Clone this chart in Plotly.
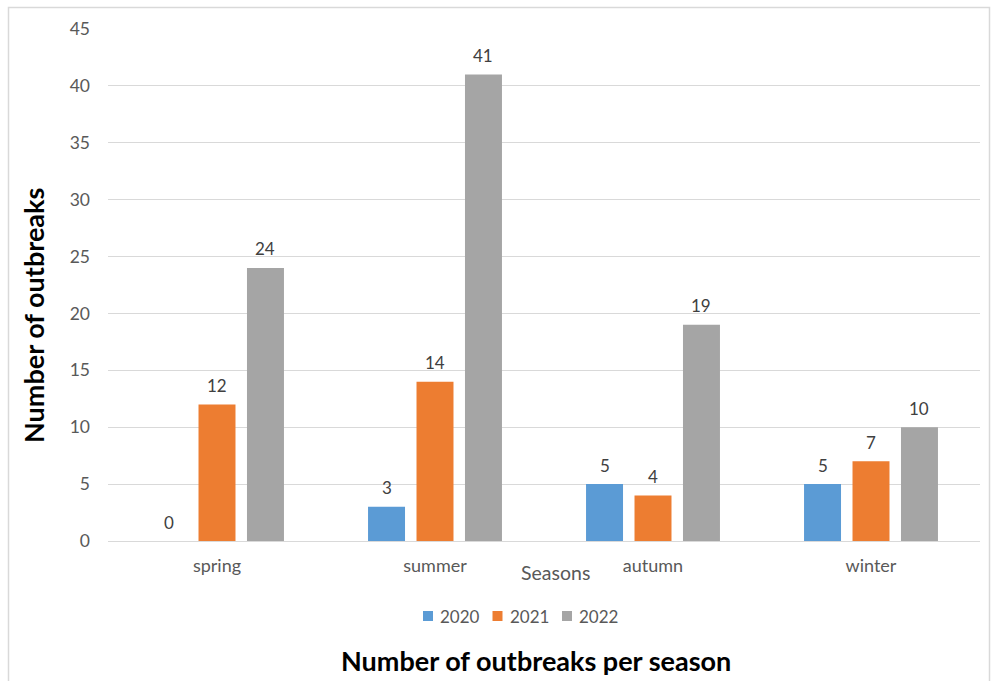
import plotly.graph_objects as go

seasons = ["spring", "summer", "autumn", "winter"]
years = ["2020", "2021", "2022"]
outbreaks_2020 = [0, 3, 5, 5]
outbreaks_2021 = [12, 14, 4, 7]
outbreaks_2022 = [24, 41, 19, 10]
y_ticks = [0, 5, 10, 15, 20, 25, 30, 35, 40, 45]

series = [outbreaks_2020, outbreaks_2021, outbreaks_2022]
colors = ["#5B9BD5", "#ED7D31", "#A5A5A5"]

FONT = "Lato, Carlito, Calibri, sans-serif"
TEXT = "#595959"

W, H = 991, 681
L, R, T, B = 108, 11, 29, 140
pw, ph = W - L - R, H - T - B

def px_x(p):
    return (p - L) / pw

def px_y(p):
    return (H - B - p) / ph

BARGAP, GROUPGAP = 0.333, 0.237

fig = go.Figure()
for name, vals, col in zip(years, series, colors):
    fig.add_trace(go.Bar(
        x=seasons, y=vals, name=name, showlegend=False,
        marker=dict(color=col, line=dict(width=0)),
    ))

# value labels above each bar, placed on the bar's own category offset
annotations = []
n = len(series)
slot = (1 - BARGAP) / n
for k, vals in enumerate(series):
    off = -(1 - BARGAP) / 2 + slot * (k + 0.5)
    for i, v in enumerate(vals):
        annotations.append(dict(
            x=i + off, y=v, xref="x", yref="y", text=str(v),
            showarrow=False, yshift=19, yanchor="middle", xanchor="center",
            font=dict(family=FONT, size=17, color="#404040"),
        ))

annotations += [
    dict(text="Seasons", xref="paper", yref="paper",
         x=px_x(555), y=px_y(572), showarrow=False,
         font=dict(family=FONT, size=19.5, color=TEXT),
         xanchor="center", yanchor="middle"),
    dict(text="<b>Number of outbreaks per season</b>", xref="paper", yref="paper",
         x=px_x(536), y=px_y(660), showarrow=False,
         font=dict(family=FONT, size=27, color="#000000"),
         xanchor="center", yanchor="middle"),
    dict(text="<b>Number of outbreaks</b>", xref="paper", yref="paper",
         x=px_x(33), y=px_y(316), showarrow=False, textangle=-90,
         font=dict(family=FONT, size=27, color="#000000"),
         xanchor="center", yanchor="middle"),
]

# compact legend row: colour swatch followed by the year
shapes = [dict(
    type="rect", xref="paper", yref="paper",
    x0=px_x(8.5), x1=px_x(989.5), y0=px_y(700), y1=px_y(7.5),
    line=dict(color="#D9D9D9", width=1.5), fillcolor="rgba(0,0,0,0)",
    layer="below",
)]
LEG_X0, LEG_PITCH, LEG_Y, SW = 423, 69.5, 616, 10
for k, (name, col) in enumerate(zip(years, colors)):
    x0 = LEG_X0 + k * LEG_PITCH
    shapes.append(dict(
        type="rect", xref="paper", yref="paper",
        x0=px_x(x0), x1=px_x(x0 + SW),
        y0=px_y(LEG_Y + SW / 2), y1=px_y(LEG_Y - SW / 2),
        line=dict(width=0), fillcolor=col,
    ))
    annotations.append(dict(
        text=name, xref="paper", yref="paper",
        x=px_x(x0 + SW + 5), y=px_y(LEG_Y), showarrow=False,
        xanchor="left", yanchor="middle",
        font=dict(family=FONT, size=17, color=TEXT),
    ))

fig.update_layout(
    width=W, height=H,
    margin=dict(l=L, r=R, t=T, b=B),
    paper_bgcolor="white", plot_bgcolor="white",
    barmode="group", bargap=BARGAP, bargroupgap=GROUPGAP,
    font=dict(family=FONT, color=TEXT),
    showlegend=False,
    xaxis=dict(
        showline=False, ticks="", showgrid=False,
        tickfont=dict(family=FONT, size=18, color=TEXT),
        ticklabelstandoff=12,
    ),
    yaxis=dict(
        range=[0, 45], tickvals=y_ticks,
        showgrid=True, gridcolor="#D9D9D9", gridwidth=1,
        zeroline=True, zerolinecolor="#D9D9D9", zerolinewidth=1,
        showline=False, ticks="", ticklen=0,
        tickfont=dict(family=FONT, size=17.5, color=TEXT),
        ticklabelstandoff=17,
    ),
    shapes=shapes,
    annotations=annotations,
)

fig.write_html("out.html")
